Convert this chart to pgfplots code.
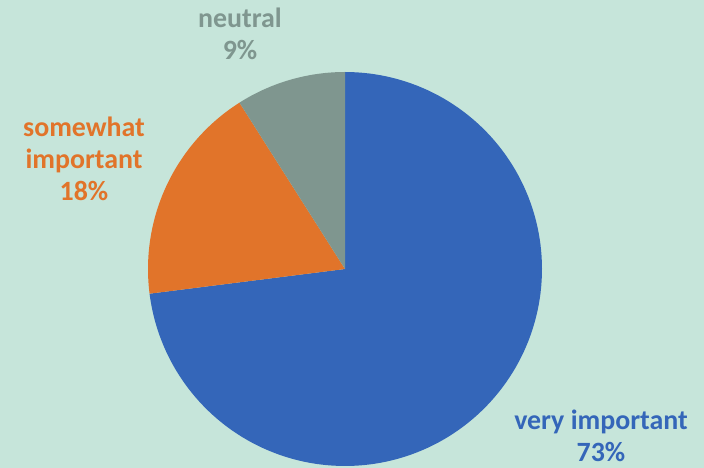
\documentclass[border=0pt]{standalone}
\usepackage{pgfplots}
\pgfplotsset{compat=1.18}
\usepackage{fontspec}
\setmainfont{Carlito}

\definecolor{bgmint}{HTML}{C6E5DA}
\definecolor{pieblue}{HTML}{3466B9}
\definecolor{pieorange}{HTML}{E1742A}
\definecolor{piegray}{HTML}{7F968F}

% slice shares in percent
\def\vImp{73}
\def\vSome{18}
\def\vNeut{9}

\tikzset{slicelabel/.style={align=center, font=\fontsize{28}{32}\selectfont\bfseries}}

\begin{document}
\begin{tikzpicture}
\pgfmathsetmacro{\aA}{90}
\pgfmathsetmacro{\aB}{90-\vImp*3.6}
\pgfmathsetmacro{\aC}{\aB-\vSome*3.6}
\pgfmathsetmacro{\aD}{\aC-\vNeut*3.6}
\begin{axis}[
    scale only axis,
    width=704bp, height=468bp,
    xmin=-345, xmax=359,
    ymin=-199, ymax=269,
    axis lines=none,
    ticks=none,
    axis background/.style={fill=bgmint},
]
\addplot[fill=pieblue, draw=none, domain=\aB:\aA, samples=150, variable=\t]
    ({197*cos(\t)},{197*sin(\t)}) -- (0,0) -- cycle;
\addplot[fill=pieorange, draw=none, domain=\aC:\aB, samples=60, variable=\t]
    ({197*cos(\t)},{197*sin(\t)}) -- (0,0) -- cycle;
\addplot[fill=piegray, draw=none, domain=\aD:\aC, samples=40, variable=\t]
    ({197*cos(\t)},{197*sin(\t)}) -- (0,0) -- cycle;

\node[slicelabel, text=piegray] at (axis cs:-105,235) {neutral\\\vNeut\%};
\node[slicelabel, text=pieorange] at (axis cs:-261,110) {somewhat\\important\\\vSome\%};
\node[slicelabel, text=pieblue] at (axis cs:256,-167) {very important\\\vImp\%};
\end{axis}
\end{tikzpicture}
\end{document}
